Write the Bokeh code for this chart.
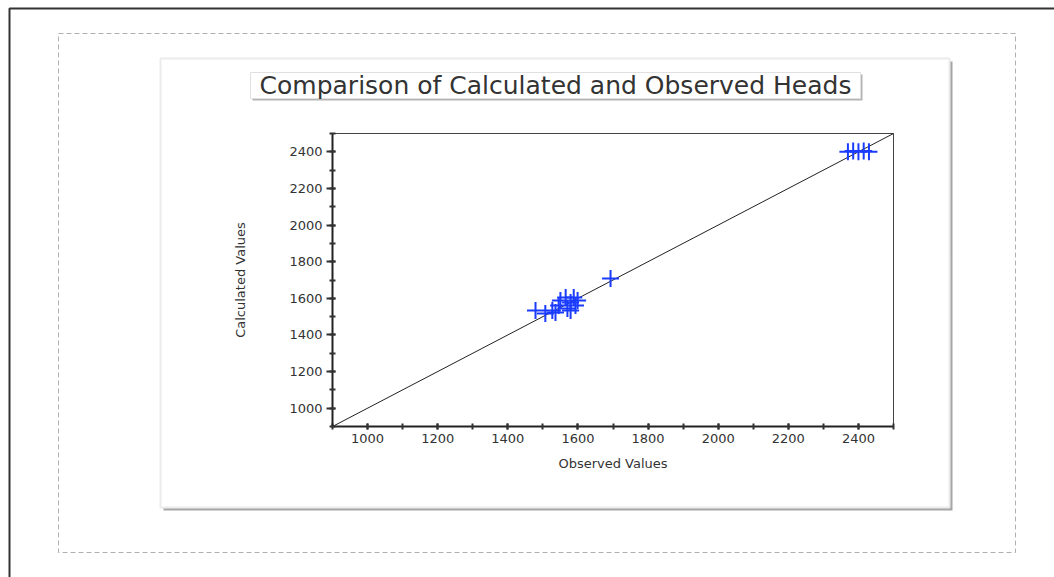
from bokeh.plotting import figure
from bokeh.models import LinearAxis, FixedTicker, Range1d
from bokeh.core.properties import value
from bokeh.embed import file_html
from bokeh.resources import INLINE

# ---- data ----
observed = [1479, 1507, 1527, 1545, 1550, 1565, 1579, 1588, 1599, 1579, 1570, 1536, 1593,
            1693, 2370, 2385, 2400, 2415, 2430]
calculated = [1533, 1517, 1533, 1561, 1588, 1605, 1577, 1605, 1588, 1533, 1545, 1523, 1561,
              1708, 2400, 2405, 2400, 2405, 2400]
line_x = [900, 2500]
line_y = [900, 2500]
axis_min, axis_max = 900, 2500
major_ticks = [1000, 1200, 1400, 1600, 1800, 2000, 2200, 2400]
minor_ticks = list(range(900, 2501, 100))
title_text = "Comparison of Calculated and Observed Heads"
x_label = "Observed Values"
y_label = "Calculated Values"

# ---- page geometry (pixels) ----
W, H = 1054, 577
PL, PR, PT, PB = 332, 893, 133, 426   # plot-area edges in the page
sx = (PR - PL) / (axis_max - axis_min)
sy = (PB - PT) / (axis_max - axis_min)

def X(px):
    return axis_min + (px - PL) / sx

def Y(py):
    return axis_min + (PB - py) / sy

p = figure(width=W, height=H,
           x_range=Range1d(X(0), X(W)), y_range=Range1d(Y(H), Y(0)),
           output_backend="svg", toolbar_location=None,
           x_axis_location=None, y_axis_location=None,
           min_border=0)
p.xgrid.visible = False
p.ygrid.visible = False
p.background_fill_color = "white"
p.border_fill_color = "white"
p.outline_line_color = None

def rect(l, r, t, b, **kw):
    p.quad(left=[X(l)], right=[X(r)], top=[Y(t)], bottom=[Y(b)], **kw)

# outer frame, dashed page frame, panel with shadow, title box with shadow
rect(9, 1070, 8, 600, fill_alpha=0, line_color="#333333", line_width=2)
rect(58, 1015, 33, 552, fill_alpha=0, line_color="#b0b0b0", line_width=1, line_dash="5 3")
rect(163, 952, 61, 510, fill_color="#a6a6a6", line_alpha=0)
rect(160, 949, 58, 507, fill_color="white", line_color="#ebebeb", line_width=2)
rect(252, 862, 74, 100, fill_color="#b4b4b4", line_alpha=0)
rect(250, 860, 72, 98, fill_color="white", line_color="#e0e0e0", line_width=1)

p.text(x=[X(555)], y=[Y(85)], text=[title_text], text_align="center",
       text_baseline="middle", text_font=value("DejaVu Sans"),
       text_font_size="25px", text_color="#333333")

# plot-area border (top/right)
p.quad(left=[axis_min], right=[axis_max], bottom=[axis_min], top=[axis_max],
       fill_alpha=0, line_color="#444444", line_width=1)

# ---- marks ----
p.line(line_x, line_y, line_color="#222222", line_width=1)
p.scatter(observed, calculated, marker="cross", size=17, line_color="#1a3cff", line_width=2)

# ---- axes ----
xaxis = LinearAxis(fixed_location=axis_min, bounds=(axis_min, axis_max), axis_label=x_label)
yaxis = LinearAxis(fixed_location=axis_min, bounds=(axis_min, axis_max), axis_label=y_label)
for ax in (xaxis, yaxis):
    ax.ticker = FixedTicker(ticks=major_ticks, minor_ticks=minor_ticks)
    ax.major_label_text_font = "DejaVu Sans"
    ax.major_label_text_font_size = "13px"
    ax.major_label_text_color = "#333333"
    ax.axis_line_width = 2
    ax.axis_line_color = "#222222"
    ax.major_tick_line_color = "#333333"
    ax.minor_tick_line_color = "#333333"
    ax.major_tick_line_width = 2
    ax.minor_tick_line_width = 2
    ax.axis_label_text_font = "DejaVu Sans"
    ax.axis_label_text_font_size = "13px"
    ax.axis_label_text_font_style = "normal"
    ax.axis_label_text_color = "#333333"
    ax.major_label_standoff = 4

xaxis.major_tick_in = 3
xaxis.major_tick_out = 3
xaxis.minor_tick_in = 3
xaxis.minor_tick_out = 3
xaxis.axis_label_standoff = 10

yaxis.major_tick_in = 3
yaxis.major_tick_out = 6
yaxis.minor_tick_in = 3
yaxis.minor_tick_out = 3
yaxis.axis_label_standoff = 38

p.add_layout(xaxis, "below")
p.add_layout(yaxis, "left")

open("out.html", "w").write(file_html(p, INLINE))
